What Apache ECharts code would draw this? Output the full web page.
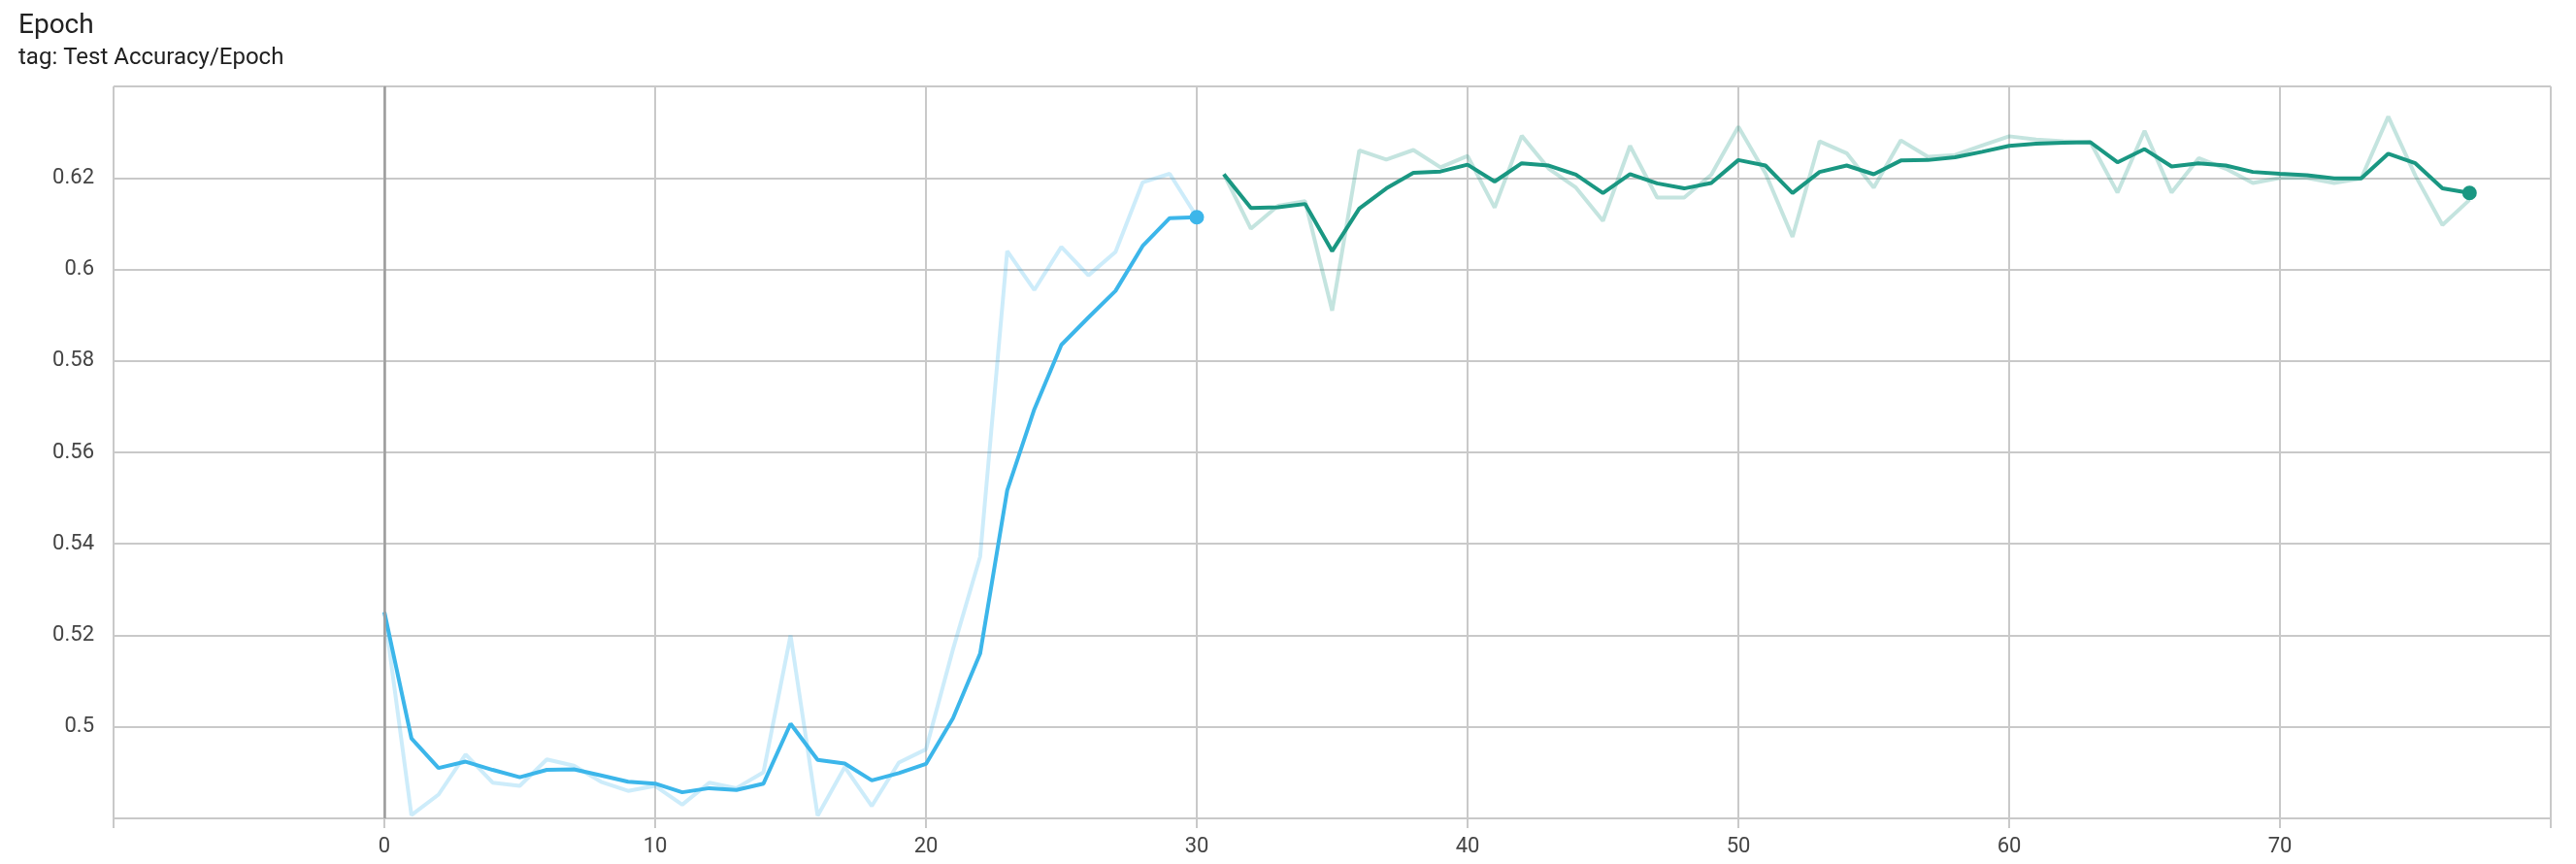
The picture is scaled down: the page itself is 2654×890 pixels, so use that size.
<!DOCTYPE html>
<html>
<head>
<meta charset="utf-8">
<title>Epoch</title>
<script src="https://cdn.jsdelivr.net/npm/echarts@6.0.0/dist/echarts.min.js"></script>
<style>
  html, body { margin: 0; padding: 0; background: #fff; }
  #chart { width: 2654px; height: 890px; }
</style>
</head>
<body>
<div id="chart"></div>
<script>
// values, one per epoch
const blueStart = 0;
const blueRaw = [
  0.5251, 0.4807, 0.4852, 0.4940, 0.4878, 0.4871, 0.4929, 0.4915, 0.4880, 0.4860,
  0.4871, 0.4830, 0.4878, 0.4866, 0.4901, 0.5200, 0.4806, 0.4912, 0.4827, 0.4922,
  0.4951, 0.5170, 0.5372, 0.6040, 0.5955, 0.6049, 0.5987, 0.6038, 0.6190, 0.6209,
  0.6115
];
const blueSmooth = [
  0.5251, 0.4975, 0.4910, 0.4924, 0.4906, 0.4890, 0.4906, 0.4907, 0.4894, 0.4880,
  0.4876, 0.4857, 0.4866, 0.4862, 0.4876, 0.5007, 0.4928, 0.4920, 0.4883, 0.4899,
  0.4919, 0.5019, 0.5160, 0.5517, 0.5694, 0.5835, 0.5895, 0.5953, 0.6051, 0.6112,
  0.6114
];

const greenStart = 31;
const greenRaw = [
  0.6208, 0.6089, 0.6139, 0.6149, 0.5910, 0.6260, 0.6240, 0.6261, 0.6223, 0.6248,
  0.6135, 0.6292, 0.6220, 0.6179, 0.6106, 0.6270, 0.6157, 0.6157, 0.6207, 0.6312,
  0.6210, 0.6071, 0.6280, 0.6254, 0.6179, 0.6282, 0.6246, 0.6250, 0.6271, 0.6291,
  0.6284, 0.6280, 0.6278, 0.6168, 0.6303, 0.6168, 0.6243, 0.6220, 0.6189, 0.6200,
  0.6200, 0.6189, 0.6199, 0.6334, 0.6205, 0.6097, 0.6152
];
const greenSmooth = [
  0.6208, 0.6134, 0.6136, 0.6143, 0.6040, 0.6133, 0.6177, 0.6211, 0.6214, 0.6229,
  0.6192, 0.6232, 0.6227, 0.6207, 0.6167, 0.6208, 0.6188, 0.6177, 0.6189, 0.6239,
  0.6227, 0.6167, 0.6213, 0.6227, 0.6208, 0.6238, 0.6239, 0.6245, 0.6257, 0.6270,
  0.6275, 0.6277, 0.6278, 0.6234, 0.6263, 0.6225, 0.6232, 0.6227, 0.6213, 0.6209,
  0.6206, 0.6199, 0.6199, 0.6253, 0.6232, 0.6177, 0.6167
];

const xTicks = [0, 10, 20, 30, 40, 50, 60, 70];
const yTicks = [0.5, 0.52, 0.54, 0.56, 0.58, 0.6, 0.62];

const blueColor = '#3cb6ea';
const greenColor = '#1a9782';
const gridColor = '#c9c9c9';
const font = 'Roboto';

function pairs(start, values) {
  return values.map(function (v, i) { return [start + i, v]; });
}

function rawSeries(start, values, color) {
  return {
    type: 'line',
    data: pairs(start, values),
    showSymbol: false,
    silent: true,
    z: 2,
    lineStyle: { color: color, width: 4, opacity: 0.26 }
  };
}

function smoothSeries(start, values, color) {
  const last = values.length - 1;
  return {
    type: 'line',
    data: pairs(start, values),
    symbol: 'circle',
    showAllSymbol: true,
    symbolSize: function (val, params) { return params.dataIndex === last ? 15 : 0; },
    itemStyle: { color: color },
    silent: true,
    z: 3,
    lineStyle: { color: color, width: 4 }
  };
}

const chart = echarts.init(document.getElementById('chart'));
const zeroLine = {
  symbol: 'none',
  silent: true,
  label: { show: false },
  lineStyle: { color: '#9e9e9e', width: 2.5, type: 'solid' },
  data: [{ xAxis: 0 }]
};
const blueRawSeries = rawSeries(blueStart, blueRaw, blueColor);
blueRawSeries.markLine = zeroLine;

chart.setOption({
  animation: false,
  backgroundColor: '#ffffff',
  title: [
    {
      text: 'Epoch',
      left: 14,
      top: 8,
      textStyle: { fontFamily: font, fontSize: 28, fontWeight: 'normal', color: '#212121' }
    },
    {
      text: 'tag: Test Accuracy/Epoch',
      left: 14,
      top: 43,
      textStyle: { fontFamily: font, fontSize: 24, fontWeight: 'normal', color: '#212121' }
    }
  ],
  grid: { left: 117, right: 26, top: 89, bottom: 47 },
  xAxis: {
    type: 'value',
    min: -10,
    max: 80,
    interval: 10,
    axisLine: { show: true, lineStyle: { color: gridColor, width: 2 } },
    axisTick: { show: true, length: 10, lineStyle: { color: gridColor, width: 2 } },
    axisLabel: {
      margin: 18,
      fontFamily: font,
      fontSize: 22,
      color: '#444444',
      formatter: function (v) { return xTicks.indexOf(v) >= 0 ? String(v) : ''; }
    },
    splitLine: { show: true, lineStyle: { color: gridColor, width: 2 } }
  },
  yAxis: {
    type: 'value',
    min: 0.48,
    max: 0.64,
    interval: 0.02,
    axisLine: { show: true, lineStyle: { color: '#bbbbbb', width: 2 } },
    axisTick: { show: true, length: 10, lineStyle: { color: gridColor, width: 2 } },
    axisLabel: {
      margin: 20,
      fontFamily: font,
      fontSize: 22,
      color: '#444444',
      formatter: function (v) {
        const r = Math.round(v * 100) / 100;
        return yTicks.indexOf(r) >= 0 ? String(r) : '';
      }
    },
    splitLine: { show: true, lineStyle: { color: gridColor, width: 2 } }
  },
  series: [
    blueRawSeries,
    rawSeries(greenStart, greenRaw, greenColor),
    smoothSeries(blueStart, blueSmooth, blueColor),
    smoothSeries(greenStart, greenSmooth, greenColor)
  ]
});
</script>
</body>
</html>
